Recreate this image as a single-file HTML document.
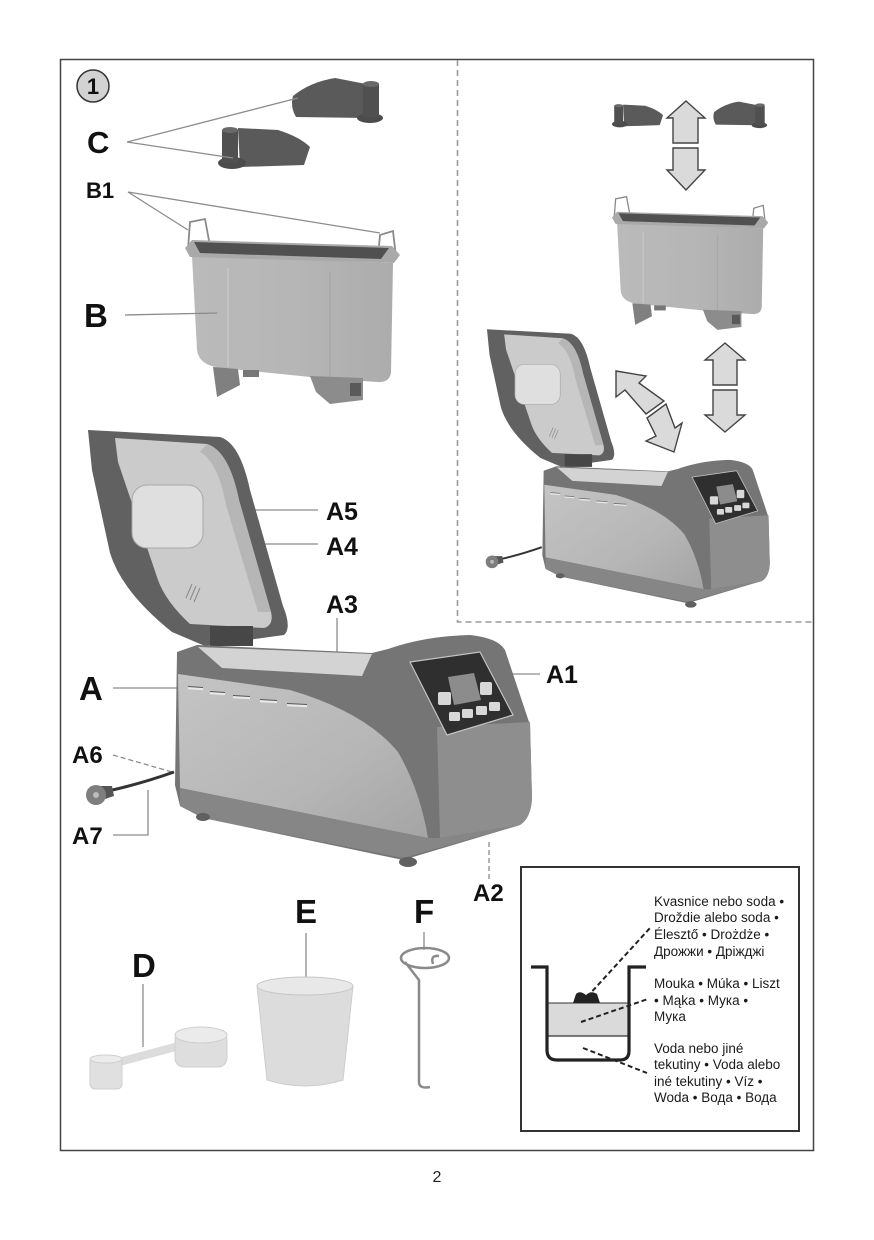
<!DOCTYPE html>
<html><head><meta charset="utf-8"><style>
html,body{margin:0;padding:0;background:#fff;}
svg{display:block;}
.lb{font-family:"Liberation Sans",Arial,sans-serif;font-weight:bold;fill:#111;}
.rt{font-family:"Liberation Sans",Arial,sans-serif;font-size:13.5px;fill:#1a1a1a;}
</style></head><body>
<svg width="874" height="1240" viewBox="0 0 874 1240" xmlns="http://www.w3.org/2000/svg">
<defs>
<linearGradient id="silver" x1="0" y1="0" x2="1" y2="1">
<stop offset="0" stop-color="#c4c4c4"/><stop offset="0.6" stop-color="#b6b6b6"/><stop offset="1" stop-color="#a4a4a4"/>
</linearGradient>
<linearGradient id="pang" x1="0" y1="0" x2="1" y2="0">
<stop offset="0" stop-color="#bababa"/><stop offset="0.5" stop-color="#b6b6b6"/><stop offset="1" stop-color="#acacac"/>
</linearGradient>
<g id="p1">
<path d="M293,96 Q310,82 335,78 L366,84 L366,118 L296,117 Q290,107 293,96 Z" fill="#5a5a5a"/>
<ellipse cx="370" cy="118" rx="13" ry="5" fill="#4c4c4c"/>
<rect x="363" y="84" width="16" height="33" fill="#505050"/>
<ellipse cx="371" cy="84" rx="8" ry="3" fill="#6a6a6a"/>
</g>
<g id="p2">
<path d="M238,128 L278,130 Q300,137 310,147 L304,165 L240,167 Z" fill="#5a5a5a"/>
<ellipse cx="232" cy="163" rx="14" ry="6" fill="#4c4c4c"/>
<rect x="222" y="130" width="16" height="33" fill="#505050"/>
<ellipse cx="230" cy="130" rx="8" ry="3" fill="#6a6a6a"/>
</g>
<g id="pan">
<path d="M188,249 L190,222 L205,219 L210,246" fill="none" stroke="#8a8a8a" stroke-width="1.8"/>
<path d="M378,257 L380,235 L393,231 L396,257" fill="none" stroke="#8a8a8a" stroke-width="1.8"/>
<path d="M192,256 L393,263 L391,372 Q390,383 377,382 L320,378 L222,368 Q199,366 197,350 Z" fill="url(#pang)"/>
<line x1="228" y1="268" x2="228" y2="367" stroke="#c4c4c4" stroke-width="2"/>
<line x1="330" y1="272" x2="330" y2="377" stroke="#a8a8a8" stroke-width="1.5"/>
<path d="M185,248 L192,240 L392,246 L400,255 L394,263 L190,257 Z" fill="#a9a9a9"/>
<path d="M194,242 L389,248 L381,259 L200,253 Z" fill="#505050"/>
<path d="M213,367 L238,369 L240,385 L217,397 Z" fill="#808080"/>
<path d="M310,376 L363,378 L363,400 L330,404 L316,392 Z" fill="#8c8c8c"/>
<rect x="350" y="383" width="11" height="13" fill="#5a5a5a"/>
<rect x="243" y="370" width="16" height="7" fill="#777"/>
</g>
<g id="mach">
<path d="M88,430 L220,437 Q240,443 250,490 L283,606 Q292,628 284,635 L205,646 L172,632 Q122,592 110,553 L92,470 Z" fill="#616161"/>
<path d="M115,438 L207,444 Q229,451 239,500 L271,612 Q274,625 264,628 L190,624 Q166,602 158,580 L118,462 Z" fill="#cbcbcb"/>
<path d="M207,444 Q229,451 239,500 L271,612 L258,612 L226,505 Q218,462 200,452 Z" fill="#b6b6b6"/>
<rect x="132" y="485" width="71" height="63" rx="15" fill="#dfdfdf" stroke="#a8a8a8"/>
<path d="M186,598 L192,584 M190,600 L196,586 M194,602 L200,588" stroke="#888" stroke-width="1"/>
<rect x="210" y="626" width="43" height="20" fill="#474747"/>
<path d="M177,652 L197,645 L372,653 L388,649 Q425,636 470,635 Q498,638 505,650 L530,725 L532,798 Q531,818 520,825 L403,860 L203,818 L180,806 L175,785 Z" fill="#757575"/>
<path d="M178,674 L290,690 Q365,712 398,752 Q420,790 428,838 L180,788 Z" fill="url(#silver)"/>
<path d="M437,727 L530,722 L532,798 Q531,818 520,825 L440,838 Z" fill="#8e8e8e"/>
<path d="M180,788 L428,838 L440,838 L520,825 L403,858 L203,818 L180,806 Z" fill="#868686"/>
<path d="M198,647 L372,654 L362,676 L222,668 Z" fill="#d3d3d3"/>
<path d="M410,662 L480,652 L513,715 L447,735 Z" fill="#2f2f2f" stroke="#c4c4c4" stroke-width="1.2"/>
<path d="M448,677 L474,673 L481,700 L454,705 Z" fill="#8c8c8c"/>
<rect x="438" y="692" width="13" height="13" rx="2" fill="#d8d8d8"/>
<rect x="480" y="682" width="12" height="13" rx="2" fill="#d8d8d8"/>
<rect x="449" y="712" width="11" height="9" rx="1.5" fill="#d8d8d8"/>
<rect x="462" y="709" width="11" height="9" rx="1.5" fill="#d8d8d8"/>
<rect x="476" y="706" width="11" height="9" rx="1.5" fill="#d8d8d8"/>
<rect x="489" y="702" width="11" height="9" rx="1.5" fill="#d8d8d8"/>
<g stroke="#e8e8e8" stroke-width="2.5">
<line x1="188" y1="688" x2="203" y2="689"/><line x1="210" y1="693" x2="225" y2="694"/>
<line x1="233" y1="697" x2="250" y2="698"/><line x1="260" y1="701" x2="277" y2="702"/>
<line x1="287" y1="705" x2="307" y2="706"/>
</g>
<g stroke="#555" stroke-width="1">
<line x1="188" y1="686.5" x2="203" y2="687.5"/><line x1="210" y1="691.5" x2="225" y2="692.5"/>
<line x1="233" y1="695.5" x2="250" y2="696.5"/><line x1="260" y1="699.5" x2="277" y2="700.5"/>
<line x1="287" y1="703.5" x2="307" y2="704.5"/>
</g>
<ellipse cx="203" cy="817" rx="7" ry="4" fill="#606060"/>
<ellipse cx="408" cy="862" rx="9" ry="5" fill="#606060"/>
<path d="M108,791 Q140,784 174,772" fill="none" stroke="#333" stroke-width="3"/>
<path d="M100,786 L112,786 L114,796 L102,800 Z" fill="#555"/>
<circle cx="96" cy="795" r="10" fill="#7e7e7e"/>
<circle cx="96" cy="795" r="3" fill="#bbb"/>
</g>
</defs>

<rect x="60.5" y="59.5" width="753" height="1091" fill="none" stroke="#444" stroke-width="1.5"/>
<path d="M457.5,60 V622 H813" fill="none" stroke="#9a9a9a" stroke-width="1.6" stroke-dasharray="6,4"/>

<circle cx="93" cy="86" r="16" fill="#d2d2d2" stroke="#333" stroke-width="1.5"/>
<text x="93" y="94" text-anchor="middle" class="lb" font-size="22">1</text>

<use href="#p1"/>
<use href="#p2"/>
<use href="#pan"/>
<g stroke="#8c8c8c" stroke-width="1.3" fill="none">
<path d="M127,142 L298,98 M127,142 L233,158"/>
<path d="M128,192 L188,230 M128,192 L380,233"/>
<path d="M125,315 L217,313"/>
<path d="M113,688 L177,688"/>
<path d="M157,510 L318,510"/>
<path d="M217,544 L318,544"/>
<path d="M337,618 L337,667"/>
<path d="M480,674 L540,674"/>
<path d="M113,835 L148,835 L148,790"/>
<path d="M143,984 L143,1047"/>
<path d="M306,933 L306,997"/>
<path d="M424,932 L424,950"/>
</g>
<path d="M113,755 L172,772" stroke="#8c8c8c" stroke-width="1.3" stroke-dasharray="5,3"/>
<path d="M489,842 L489,880" stroke="#8c8c8c" stroke-width="1.3" stroke-dasharray="5,3"/>

<text x="87" y="153" class="lb" font-size="31">C</text>
<text x="86" y="198" class="lb" font-size="22">B1</text>
<text x="84" y="327" class="lb" font-size="33">B</text>

<use href="#mach"/>
<text x="326" y="520" class="lb" font-size="25">A5</text>
<text x="326" y="555" class="lb" font-size="25">A4</text>
<text x="326" y="613" class="lb" font-size="25">A3</text>
<text x="546" y="683" class="lb" font-size="25">A1</text>
<text x="79" y="700" class="lb" font-size="33">A</text>
<text x="72" y="763" class="lb" font-size="24">A6</text>
<text x="72" y="844" class="lb" font-size="24">A7</text>
<text x="473" y="901" class="lb" font-size="24">A2</text>

<use href="#p2" transform="matrix(0.555,0,0,0.555,491,33.6)"/>
<use href="#p1" transform="matrix(0.59,0,0,0.59,541.1,55.6)"/>
<use href="#pan" transform="matrix(0.727,0,0,0.72,477.5,39)"/>
<use href="#mach" transform="matrix(0.637,0,0,0.637,430.9,55.4)"/>
<g fill="#dadada" stroke="#444" stroke-width="1.4" stroke-linejoin="miter">
<polygon points="686,101 705,118 698,118 698,143 673,143 673,118 667,118"/>
<polygon points="673,148 698,148 698,170 705,170 686,190 667,170 673,170"/>
<polygon points="725,343 745,360 737,360 737,385 713,385 713,360 705,360"/>
<polygon points="713,390 737,390 737,415 745,415 725,432 705,415 713,415"/>
<polygon points="616,371 646,376 639,383 664,401 646,414 625,390 616,397"/>
<polygon points="647,418 666,404 675,428 682,423 674,452 646,441 656,436"/>
</g>

<path d="M118,1058 L178,1042 L180,1050 L120,1066 Z" fill="#dcdcdc"/>
<rect x="90" y="1057" width="32" height="32" rx="5" fill="#e0e0e0" stroke="#cfcfcf"/>
<ellipse cx="106" cy="1059" rx="16" ry="4" fill="#ececec" stroke="#cfcfcf"/>
<rect x="175" y="1031" width="52" height="36" rx="9" fill="#dedede" stroke="#cfcfcf"/>
<ellipse cx="201" cy="1035" rx="26" ry="8" fill="#ebebeb" stroke="#cfcfcf"/>
<path d="M257,986 L267,1080 Q305,1092 343,1080 L353,986 Z" fill="#dcdcdc" stroke="#cdcdcd"/>
<ellipse cx="305" cy="986" rx="48" ry="9" fill="#e8e8e8" stroke="#c6c6c6"/>
<ellipse cx="425" cy="958" rx="24" ry="10" fill="none" stroke="#8a8a8a" stroke-width="2.5"/>
<path d="M405,962 L419,980 L419,1083 Q420,1089 430,1087" fill="none" stroke="#8a8a8a" stroke-width="2.5"/>
<path d="M433,964 Q430,955 439,956" fill="none" stroke="#8a8a8a" stroke-width="2.5"/>
<text x="132" y="977" class="lb" font-size="33">D</text>
<text x="295" y="923" class="lb" font-size="33">E</text>
<text x="414" y="923" class="lb" font-size="33">F</text>

<rect x="521" y="867" width="278" height="264" fill="#fff" stroke="#333" stroke-width="2"/>
<rect x="548" y="1003" width="80" height="33" fill="#dadada"/>
<line x1="548" y1="1003" x2="628" y2="1003" stroke="#333" stroke-width="1"/>
<line x1="548" y1="1036" x2="628" y2="1036" stroke="#333" stroke-width="1.2"/>
<path d="M573,1003 L576,994 Q580,990 586,995 Q591,990 597,994 L600,1003 Z" fill="#222"/>
<path d="M531,967 H547 V1050 Q547,1060 557,1060 H620 Q629,1060 629,1051 V967 H646" fill="none" stroke="#222" stroke-width="3.2"/>
<g stroke="#222" stroke-width="2" stroke-dasharray="5,3">
<line x1="587" y1="997" x2="650" y2="928"/>
<line x1="581" y1="1022" x2="648" y2="999"/>
<line x1="583" y1="1048" x2="647" y2="1073"/>
</g>
<text class="rt" x="654" y="906">Kvasnice nebo soda •</text>
<text class="rt" x="654" y="922">Droždie alebo soda •</text>
<text class="rt" x="654" y="939">Élesztő • Drożdże •</text>
<text class="rt" x="654" y="956">Дрожжи • Дріжджі</text>
<text class="rt" x="654" y="988">Mouka • Múka • Liszt</text>
<text class="rt" x="654" y="1005">• Mąka • Мука •</text>
<text class="rt" x="654" y="1021">Мука</text>
<text class="rt" x="654" y="1053">Voda nebo jiné</text>
<text class="rt" x="654" y="1069">tekutiny • Voda alebo</text>
<text class="rt" x="654" y="1086">iné tekutiny • Víz •</text>
<text class="rt" x="654" y="1102">Woda • Вода • Вода</text>

<text x="437" y="1182" text-anchor="middle" font-family="Liberation Sans, Arial, sans-serif" font-size="16" fill="#222">2</text>
</svg>
</body></html>
